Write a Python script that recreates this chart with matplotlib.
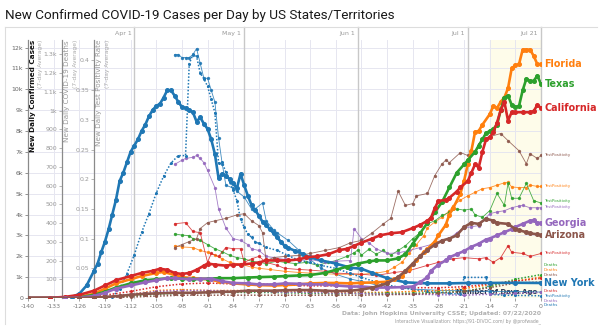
import matplotlib
matplotlib.use("Agg")
import matplotlib.pyplot as plt
from matplotlib.ticker import FuncFormatter

plt.rcParams['font.family'] = ['DejaVu Sans']

# ---- data (x = days ago, 0 = Jul 21) ----
ny_case_days = [-140, -134, -130, -128, -126, -124, -122, -121, -120, -119, -118, -117, -116, -115, -114, -113, -112, -111, -110, -109, -108, -107, -106, -105, -104, -103, -102, -101, -100, -99, -98, -97, -96, -95, -94, -93, -92, -91, -90, -89, -88, -87, -86, -85, -84, -83, -82, -81, -80, -79, -78, -77, -76, -75, -74, -73, -72, -71, -70, -69, -67, -65, -63, -60, -56, -52, -49, -46, -42, -37, -31, -25, -20, -14, -7, 0]
ny_cases = [0, 0, 0.02, 0.05, 0.2, 0.6, 1.3, 1.65, 2.2, 2.7, 3.3, 4.0, 4.7, 5.6, 6.0, 6.5, 7.0, 7.3, 7.6, 8.0, 8.3, 8.7, 9.0, 9.2, 9.3, 9.6, 9.95, 9.95, 9.7, 9.4, 9.15, 9.1, 9.0, 8.9, 8.45, 8.65, 8.35, 8.1, 7.6, 6.9, 5.75, 5.95, 5.85, 5.7, 5.5, 5.25, 5.95, 5.4, 4.9, 4.45, 4.2, 3.95, 3.65, 3.5, 3.3, 3.1, 2.9, 2.7, 2.5, 2.4, 2.25, 2.1, 1.95, 1.8, 1.65, 1.45, 1.4, 1.2, 0.95, 0.75, 0.7, 0.7, 0.72, 0.72, 0.73, 0.72]

fl_case_days = [-140, -130, -126, -122, -119, -116, -112, -109, -105, -103, -100, -98, -95, -91, -88, -84, -80, -77, -73, -70, -66, -63, -59, -56, -52, -49, -45, -42, -40, -38, -36, -34, -32, -31, -29, -28, -26, -25, -24, -22, -21, -20, -19, -18, -17, -16, -14, -13, -12, -11, -10, -9, -8, -7, -6, -5, -4, -3, -2, -1, 0]
fl_cases = [0, 0, 0.05, 0.2, 0.45, 0.7, 0.9, 1.05, 1.2, 1.25, 1.1, 1.0, 0.95, 0.9, 0.8, 0.7, 0.65, 0.62, 0.6, 0.62, 0.65, 0.7, 0.72, 0.72, 0.7, 0.73, 0.75, 0.78, 0.9, 1.07, 1.4, 1.8, 2.2, 2.35, 2.7, 3.0, 3.5, 4.0, 4.3, 5.0, 5.6, 6.4, 7.05, 7.95, 8.0, 8.3, 8.8, 9.2, 9.1, 9.4, 9.6, 10.05, 11.0, 11.15, 11.2, 11.9, 11.9, 11.9, 11.6, 11.2, 11.2]

tx_case_days = [-140, -130, -126, -122, -119, -116, -112, -108, -105, -101, -98, -95, -91, -88, -84, -80, -77, -73, -70, -66, -63, -59, -56, -53, -50, -47, -45, -42, -39, -37, -35, -33, -31, -29, -27, -25, -23, -21, -20, -18, -17, -16, -15, -14, -13, -12, -11, -10, -9, -8, -7, -6, -5, -4, -3, -2, -1, 0]
tx_cases = [0, 0, 0.03, 0.15, 0.3, 0.5, 0.7, 0.85, 0.9, 0.95, 0.93, 0.9, 0.92, 0.95, 0.95, 0.98, 1.0, 1.02, 1.05, 1.08, 1.1, 1.2, 1.35, 1.5, 1.65, 1.75, 1.8, 1.8, 1.9, 2.1, 2.6, 3.1, 3.6, 4.1, 4.6, 5.3, 6.0, 6.4, 6.6, 7.0, 7.3, 7.6, 7.9, 8.0, 8.1, 8.3, 9.0, 9.6, 9.7, 9.25, 9.15, 9.2, 9.95, 10.5, 10.4, 10.4, 10.65, 10.25]

ca_case_days = [-140, -134, -130, -126, -122, -119, -116, -112, -109, -106, -104, -102, -100, -98, -96, -94, -92, -91, -89, -86, -84, -82, -79, -77, -75, -72, -69, -66, -64, -61, -58, -55, -53, -51, -49, -46, -44, -41, -38, -35, -33, -31, -30, -29, -28, -26, -25, -23, -22, -20, -19, -18, -17, -16, -15, -14, -13, -12, -11, -10, -9, -8, -7, -5, -3, -2, -1, 0]
ca_cases = [0, 0.01, 0.05, 0.15, 0.35, 0.6, 0.85, 1.05, 1.2, 1.3, 1.4, 1.35, 1.2, 1.15, 1.2, 1.35, 1.55, 1.65, 1.6, 1.55, 1.6, 1.6, 1.65, 1.7, 1.8, 1.8, 1.8, 1.85, 1.95, 2.0, 2.1, 2.3, 2.35, 2.5, 2.65, 2.85, 3.0, 3.1, 3.15, 3.35, 3.5, 3.7, 3.85, 4.3, 4.65, 4.7, 4.8, 5.1, 5.3, 5.6, 6.0, 6.4, 6.25, 7.0, 7.6, 7.7, 7.95, 8.4, 9.0, 9.4, 8.5, 8.9, 8.9, 8.9, 8.9, 8.95, 9.25, 9.1]

ga_case_days = [-140, -130, -126, -122, -119, -116, -112, -108, -105, -102, -100, -96, -93, -90, -87, -84, -80, -77, -73, -70, -66, -63, -59, -56, -52, -49, -45, -42, -38, -35, -33, -31, -30, -28, -26, -25, -23, -21, -19, -17, -15, -14, -12, -10, -8, -7, -5, -3, -2, -1, 0]
ga_cases = [0, 0, 0.02, 0.1, 0.25, 0.45, 0.6, 0.75, 0.85, 0.95, 0.95, 0.9, 0.92, 0.93, 0.8, 0.72, 0.7, 0.65, 0.65, 0.7, 0.68, 0.65, 0.65, 0.6, 0.55, 0.55, 0.5, 0.5, 0.52, 0.55, 0.75, 1.0, 1.3, 1.6, 1.8, 1.95, 2.1, 2.25, 2.45, 2.6, 2.8, 2.85, 3.0, 3.15, 3.3, 3.4, 3.55, 3.7, 3.72, 3.6, 3.6]

az_case_days = [-140, -126, -122, -119, -115, -112, -108, -105, -100, -95, -91, -87, -84, -80, -77, -73, -70, -66, -63, -59, -56, -52, -49, -46, -42, -39, -37, -35, -33, -31, -29, -27, -25, -23, -21, -19, -17, -15, -13, -12, -9, -7, -6, -4, -3, -1, 0]
az_cases = [0, 0, 0.02, 0.05, 0.1, 0.15, 0.2, 0.22, 0.25, 0.25, 0.27, 0.3, 0.3, 0.35, 0.35, 0.35, 0.37, 0.38, 0.38, 0.35, 0.33, 0.35, 0.4, 0.5, 0.7, 1.0, 1.3, 1.65, 2.0, 2.3, 2.55, 2.75, 2.85, 3.0, 3.4, 3.6, 3.55, 3.8, 3.7, 3.6, 3.55, 3.3, 3.25, 3.15, 3.1, 3.05, 3.0]

# deaths per day (7-day average)
ny_death_days = [-126, -117, -115, -113, -111, -109, -107, -105, -103, -101, -99, -97, -96, -95, -94, -93, -92, -91, -90, -89, -88, -87, -86, -85, -84, -83, -82, -81, -80, -79, -78, -77, -75, -72, -69, -66, -63, -60, -56, -52, -49, -45, -42, -38, -35, -31, -28, -25, -22, -21, -15, -14, -10, -7, 0]
ny_deaths = [0, 5, 50, 130, 230, 350, 450, 560, 650, 720, 760, 760, 1250, 1300, 1290, 1200, 1170, 1130, 1060, 990, 720, 725, 670, 620, 575, 520, 420, 377, 340, 324, 300, 292, 270, 254, 227, 200, 190, 174, 158, 131, 110, 85, 70, 55, 45, 35, 30, 25, 20, 110, 110, 20, 15, 14, 12]
fl_death_days = [-126, -119, -112, -105, -98, -91, -84, -77, -70, -63, -56, -49, -42, -35, -28, -21, -14, -7, 0]
fl_deaths = [0, 5, 20, 40, 45, 40, 40, 40, 35, 35, 30, 30, 30, 35, 40, 50, 70, 90, 112]
tx_death_days = [-126, -112, -105, -98, -91, -84, -77, -70, -63, -56, -49, -42, -35, -28, -21, -14, -7, 0]
tx_deaths = [0, 10, 20, 25, 30, 30, 30, 28, 25, 22, 25, 25, 25, 30, 35, 60, 100, 125]
ca_death_days = [-126, -119, -112, -105, -98, -91, -84, -77, -70, -63, -56, -49, -42, -35, -28, -21, -14, -7, 0]
ca_deaths = [0, 15, 35, 60, 75, 80, 75, 75, 70, 65, 65, 60, 60, 55, 55, 60, 75, 90, 105]
ga_death_days = [-126, -119, -112, -105, -98, -91, -84, -77, -70, -63, -56, -49, -42, -35, -28, -21, -14, -7, 0]
ga_deaths = [0, 5, 20, 35, 40, 40, 35, 35, 30, 30, 25, 25, 20, 20, 18, 15, 20, 25, 30]
az_death_days = [-126, -112, -105, -98, -91, -84, -77, -70, -63, -56, -49, -42, -35, -28, -21, -14, -7, 0]
az_deaths = [0, 5, 10, 15, 15, 15, 15, 15, 15, 15, 15, 18, 20, 25, 35, 55, 80, 85]

# test positivity rate (7-day average)
ny_pos_days = [-100, -99, -98, -97, -96, -95, -94, -93, -92, -91, -90, -89, -88, -87, -86, -84, -83, -81, -79, -78, -76, -75, -73, -72, -69, -66, -63, -60, -56, -52, -49, -45, -42, -35, -28, -21, -14, -7, 0]
ny_pos = [0.41, 0.41, 0.405, 0.405, 0.405, 0.41, 0.42, 0.395, 0.37, 0.37, 0.35, 0.33, 0.27, 0.226, 0.19, 0.185, 0.18, 0.17, 0.15, 0.15, 0.16, 0.13, 0.115, 0.11, 0.097, 0.08, 0.065, 0.05, 0.04, 0.032, 0.028, 0.022, 0.02, 0.015, 0.013, 0.012, 0.011, 0.011, 0.01]
fl_pos_days = [-100, -98, -95, -93, -91, -89, -87, -85, -82, -79, -77, -74, -70, -66, -63, -59, -56, -52, -49, -45, -42, -40, -38, -36, -34, -32, -31, -29, -27, -25, -24, -22, -20, -18, -16, -14, -12, -10, -9, -8, -6, -4, -3, -1, 0]
fl_pos = [0.088, 0.086, 0.085, 0.08, 0.077, 0.072, 0.066, 0.06, 0.057, 0.052, 0.05, 0.048, 0.045, 0.043, 0.042, 0.041, 0.04, 0.04, 0.04, 0.042, 0.045, 0.052, 0.06, 0.075, 0.09, 0.105, 0.118, 0.128, 0.136, 0.147, 0.155, 0.165, 0.172, 0.178, 0.184, 0.186, 0.19, 0.194, 0.195, 0.187, 0.186, 0.186, 0.19, 0.188, 0.188]
tx_pos_days = [-100, -98, -96, -95, -93, -91, -89, -87, -85, -83, -81, -79, -77, -75, -72, -70, -67, -64, -61, -58, -56, -53, -51, -50, -49, -47, -45, -43, -41, -39, -37, -35, -33, -31, -29, -27, -25, -23, -21, -19, -18, -16, -14, -12, -10, -9, -8, -6, -4, -2, 0]
tx_pos = [0.108, 0.106, 0.105, 0.1, 0.097, 0.09, 0.083, 0.078, 0.072, 0.068, 0.066, 0.062, 0.06, 0.058, 0.062, 0.06, 0.058, 0.06, 0.055, 0.06, 0.063, 0.07, 0.076, 0.081, 0.072, 0.082, 0.074, 0.08, 0.072, 0.08, 0.088, 0.1, 0.11, 0.125, 0.13, 0.139, 0.144, 0.15, 0.148, 0.15, 0.14, 0.136, 0.147, 0.176, 0.156, 0.193, 0.168, 0.168, 0.193, 0.164, 0.16]
ca_pos_days = [-100, -97, -95, -93, -91, -90, -88, -86, -84, -82, -81, -79, -77, -75, -72, -70, -66, -63, -59, -56, -49, -45, -40, -36, -31, -28, -24, -21, -17, -15, -13, -11, -9, -8, -5, -3, 0]
ca_pos = [0.125, 0.127, 0.112, 0.11, 0.06, 0.075, 0.07, 0.085, 0.083, 0.083, 0.06, 0.066, 0.07, 0.06, 0.055, 0.05, 0.048, 0.047, 0.045, 0.042, 0.04, 0.038, 0.043, 0.046, 0.055, 0.06, 0.066, 0.068, 0.066, 0.068, 0.06, 0.068, 0.088, 0.077, 0.075, 0.07, 0.075]
ga_pos_days = [-100, -98, -97, -95, -94, -93, -92, -91, -89, -88, -86, -84, -82, -80, -79, -77, -75, -73, -70, -66, -63, -59, -56, -52, -51, -49, -47, -45, -42, -39, -36, -33, -30, -27, -25, -23, -21, -19, -17, -15, -14, -12, -10, -8, -6, -5, -3, -1, 0]
ga_pos = [0.225, 0.232, 0.235, 0.237, 0.24, 0.235, 0.228, 0.215, 0.186, 0.15, 0.118, 0.1, 0.097, 0.09, 0.083, 0.08, 0.07, 0.068, 0.065, 0.063, 0.065, 0.06, 0.062, 0.063, 0.117, 0.1, 0.093, 0.083, 0.075, 0.076, 0.08, 0.085, 0.09, 0.097, 0.1, 0.11, 0.118, 0.12, 0.122, 0.135, 0.142, 0.145, 0.147, 0.152, 0.155, 0.156, 0.152, 0.152, 0.152]
az_pos_days = [-100, -98, -96, -94, -93, -91, -89, -86, -83, -81, -79, -77, -76, -75, -73, -70, -66, -63, -59, -55, -52, -49, -46, -43, -41, -39, -37, -35, -34, -31, -29, -27, -26, -25, -22, -20, -18, -17, -15, -11, -9, -6, -4, -3, -1, 0]
az_pos = [0.085, 0.09, 0.095, 0.1, 0.117, 0.127, 0.13, 0.134, 0.14, 0.142, 0.13, 0.122, 0.11, 0.063, 0.068, 0.07, 0.072, 0.075, 0.08, 0.085, 0.093, 0.097, 0.11, 0.125, 0.134, 0.18, 0.156, 0.159, 0.172, 0.176, 0.206, 0.226, 0.232, 0.228, 0.245, 0.24, 0.245, 0.26, 0.27, 0.277, 0.265, 0.248, 0.226, 0.243, 0.235, 0.24]

states = ["New York", "Florida", "Texas", "California", "Georgia", "Arizona"]
colors = ["#1f77b4", "#ff7f0e", "#2ca02c", "#d62728", "#9467bd", "#8c564b"]

case_series = [(ny_case_days, ny_cases), (fl_case_days, fl_cases), (tx_case_days, tx_cases),
               (ca_case_days, ca_cases), (ga_case_days, ga_cases), (az_case_days, az_cases)]
death_series = [(ny_death_days, ny_deaths), (fl_death_days, fl_deaths), (tx_death_days, tx_deaths),
                (ca_death_days, ca_deaths), (ga_death_days, ga_deaths), (az_death_days, az_deaths)]
pos_series = [(ny_pos_days, ny_pos), (fl_pos_days, fl_pos), (tx_pos_days, tx_pos),
              (ca_pos_days, ca_pos), (ga_pos_days, ga_pos), (az_pos_days, az_pos)]

day_ticks = list(range(-140, 1, 7))
month_days = [-111, -81, -50, -20, 0]
month_names = ["Apr 1", "May 1", "Jun 1", "Jul 1", "Jul 21"]

W, H = 600, 326
fig = plt.figure(figsize=(6, 3.26), dpi=100)
fig.patch.set_facecolor("white")

def fx(px):
    return px / W

def fy(py):
    return 1 - py / H

L, R, T, B = 28, 541, 40, 298
ax = fig.add_axes([fx(L), fy(B), (R - L) / W, (B - T) / H])
ax_p = ax.twinx()
ax_d = ax.twinx()
ax_c = ax.twinx()

CMAX, DMAX, PMAX = 12.36, 1377, 0.4345
for a, top in [(ax, CMAX), (ax_c, CMAX), (ax_d, DMAX), (ax_p, PMAX)]:
    a.set_xlim(-140, 0)
    a.set_ylim(0, top)
    for s in a.spines.values():
        s.set_visible(False)

# background, grid, month lines
ax.set_facecolor("white")
ax.axvspan(-14, 0, color="#fefcea", zorder=0)
for d in day_ticks:
    ax.axvline(d, color="#e6e6f0", lw=0.7, zorder=0.5)
for k in range(1, 13):
    ax.axhline(k, color="#e6e6f0", lw=0.7, zorder=0.5)
for d, name in zip(month_days, month_names):
    ax.plot([d, d], [0, CMAX * 1.05], color="#c8c8c8", lw=1.0, zorder=0.6, clip_on=False)
    ax.text(d - 0.8, CMAX * 1.027, name, fontsize=4.5, color="#999999", ha="right", va="center")

ax.text(-1.0, 0.28, "Number of Days Ago", fontsize=5.0, fontweight="bold", color="#2b3553",
        ha="right", va="center", zorder=0.8)

# axes / ticks
ax.set_xticks(day_ticks)
ax.set_xticklabels([str(d) for d in day_ticks])
ax.tick_params(axis="x", labelsize=4.5, colors="#777777", length=2, width=0.5, pad=2)
ax.set_yticks(range(0, 13))
ax.yaxis.set_major_formatter(FuncFormatter(lambda v, p: "0" if v == 0 else f"{int(v)}k"))
ax.tick_params(axis="y", labelsize=4.5, colors="#666666", length=2, width=0.5, pad=1.5)
ax.spines["left"].set_visible(True)
ax.spines["left"].set_color("#8a8a8a")
ax.spines["left"].set_linewidth(0.9)

ax_c.set_yticks([])
ax_c.tick_params(axis="x", bottom=False, labelbottom=False)

ax_d.yaxis.set_ticks_position("left")
ax_d.spines["left"].set_visible(True)
ax_d.spines["left"].set_position(("axes", (62 - L) / (R - L)))
ax_d.spines["left"].set_color("#8a8a8a")
ax_d.spines["left"].set_linewidth(0.9)
ax_d.set_yticks(range(100, 1301, 100))
ax_d.yaxis.set_major_formatter(FuncFormatter(lambda v, p: f"{int(v)}" if v < 1000 else f"{v / 1000:g}k"))
ax_d.tick_params(axis="y", labelsize=4.5, colors="#999999", length=2, width=0.5, pad=1.5)

ax_p.yaxis.set_ticks_position("left")
ax_p.spines["left"].set_visible(True)
ax_p.spines["left"].set_position(("axes", (94 - L) / (R - L)))
ax_p.spines["left"].set_color("#8a8a8a")
ax_p.spines["left"].set_linewidth(0.9)
ax_p.set_yticks([0.05, 0.1, 0.15, 0.2, 0.25, 0.3, 0.35, 0.4])
ax_p.yaxis.set_major_formatter(FuncFormatter(lambda v, p: f"{v:g}"))
ax_p.tick_params(axis="y", labelsize=4.5, colors="#999999", length=2, width=0.5, pad=1.5)

# series
for (dd, vv), c in zip(pos_series, colors):
    ax_p.plot(dd, vv, color=c, lw=0.6, marker="o", ms=1.4, alpha=0.85, zorder=2)
for (dd, vv), c in zip(death_series, colors):
    ax_d.plot(dd, vv, color=c, lw=1.1, ls=(0, (1, 1.2)), marker="o", ms=1.2, zorder=2)
for (dd, vv), c, name in zip(case_series, colors, states):
    ax_c.plot(dd, vv, color=c, lw=1.9, marker="o", ms=2.6, zorder=3)
    ax_c.annotate(name, (0, vv[-1]), xytext=(2.5, 0), textcoords="offset points",
                  fontsize=6.9, fontweight="bold", color=c, va="center", ha="left",
                  annotation_clip=False)

# small end labels
small_labels = [("TestPositivity", 5, 155), ("TestPositivity", 1, 186), ("TestPositivity", 2, 201),
                ("TestPositivity", 4, 207), ("TestPositivity", 3, 253), ("Deaths", 2, 264.5),
                ("Deaths", 1, 270), ("Deaths", 5, 275.5), ("Deaths", 3, 290.5),
                ("TestPositivity", 0, 295.5), ("Deaths", 4, 300.5), ("Deaths", 0, 305.5)]
for txt, ci, py in small_labels:
    fig.text(fx(544), fy(py), txt, fontsize=2.9, color=colors[ci], ha="left", va="center")

# axis titles (rotated)
for px, txt, col, wt in [(32.5, "New Daily Confirmed Cases", "#111111", "bold"),
                         (40.5, "(7-day Average)", "#aaaaaa", "normal"),
                         (67, "New Daily COVID-19 Deaths", "#999999", "normal"),
                         (75.5, "(7-day Average)", "#aaaaaa", "normal"),
                         (99, "New Daily Test Positivity Rate", "#999999", "normal"),
                         (107, "(7-day Average)", "#aaaaaa", "normal")]:
    fs = 5.2 if "New" in txt else 4.3
    fig.text(fx(px), fy(40), txt, rotation=90, fontsize=fs, color=col, fontweight=wt,
             ha="center", va="top")

fig.text(fx(5), fy(15), "New Confirmed COVID-19 Cases per Day by US States/Territories",
         fontsize=9.7, color="#1a1a1a", ha="left", va="center", family="Roboto")
fig.text(fx(541), fy(313), "Data: John Hopkins University CSSE; Updated: 07/22/2020",
         fontsize=4.4, color="#b0b0b0", fontweight="bold", ha="right", va="center")
fig.text(fx(541), fy(321.5), "Interactive Visualization: https://91-DIVOC.com/ by @profwade_",
         fontsize=3.3, color="#999999", ha="right", va="center")

# light frame around the chart
fig.add_artist(plt.Line2D([fx(5), fx(597)], [fy(27), fy(27)], color="#dddddd", lw=0.8))
fig.add_artist(plt.Line2D([fx(5), fx(5)], [fy(27), fy(324)], color="#dddddd", lw=0.8))

fig.savefig("out.png", dpi=100)
